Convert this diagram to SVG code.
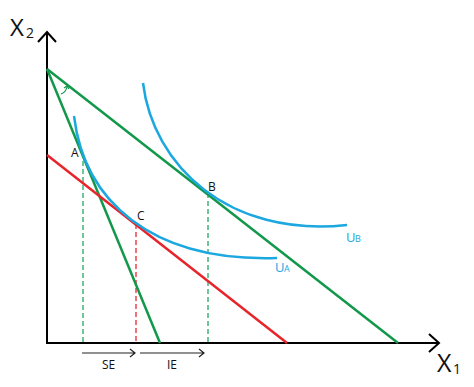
<svg xmlns="http://www.w3.org/2000/svg" width="474" height="387" viewBox="0 0 474 387">
<style>
.ax{stroke:#000;stroke-width:2;fill:none}
.g{stroke:#12984a;stroke-width:2.5;fill:none}
.r{stroke:#e8242b;stroke-width:2.5;fill:none}
.b{stroke:#1ba8e0;stroke-width:2.5;fill:none}
.dg{stroke:#22a86a;stroke-width:1.3;stroke-dasharray:5,3;fill:none}
.dr{stroke:#e8242b;stroke-width:1.3;stroke-dasharray:5,3;fill:none}
.ar{stroke:#222;stroke-width:1.2;fill:none}
text{font-family:"Open Sans","Liberation Sans",sans-serif;fill:#111}
.bl{fill:#1ba8e0}
</style>
<rect width="474" height="387" fill="#fff"/>
<g id="axes">
<path class="ax" d="M47,33 V343 H438"/>
<path class="ax" d="M38,42 L47,32 L56,42"/>
<path class="ax" d="M429,334 L439,343 L429,352"/>
<text x="10" y="36" font-size="24">X</text><text x="26" y="38" font-size="14">2</text>
<text x="437" y="372" font-size="25">X</text><text x="453" y="374" font-size="14">1</text>
</g>
<g id="connectors">
<path class="dg" d="M83,153 V343"/>
<path class="dr" d="M136,224 V343"/>
<path class="dg" d="M208,193 V343"/>
<path class="ar" d="M82,353 H135 M130,349 L135,353 L130,357"/>
<path class="ar" d="M140,353 H204 M199,349 L204,353 L199,357"/>
<path d="M61,94 Q66,92 67,87" stroke="#12984a" stroke-width="1.2" fill="none"/>
<path d="M64,88 L67,86 L69,89" stroke="#12984a" stroke-width="1.2" fill="none"/>
</g>
<g id="budget1"><path class="g" d="M47,69 L160,343"/></g>
<g id="budget2"><path class="g" d="M47,69 L398,343"/></g>
<g id="budget3"><path class="r" d="M47,155 L287,343"/></g>
<g id="UA"><path class="b" d="M74,116 C84,200 150,262 277,258"/><text class="bl" x="275" y="272" font-size="13">U</text><text class="bl" x="284" y="272" font-size="9">A</text></g>
<g id="UB"><path class="b" d="M143,83 C153,165 228,238 347,225"/><text class="bl" x="346" y="242" font-size="13">U</text><text class="bl" x="355" y="242" font-size="9">B</text></g>
<g id="A"><text x="71" y="157" font-size="12">A</text></g>
<g id="B"><text x="208" y="191" font-size="12">B</text></g>
<g id="C"><text x="137" y="220" font-size="12">C</text></g>
<g id="SE"><text x="102" y="369" font-size="12">SE</text></g>
<g id="IE"><text x="167" y="369" font-size="12">IE</text></g>
</svg>
